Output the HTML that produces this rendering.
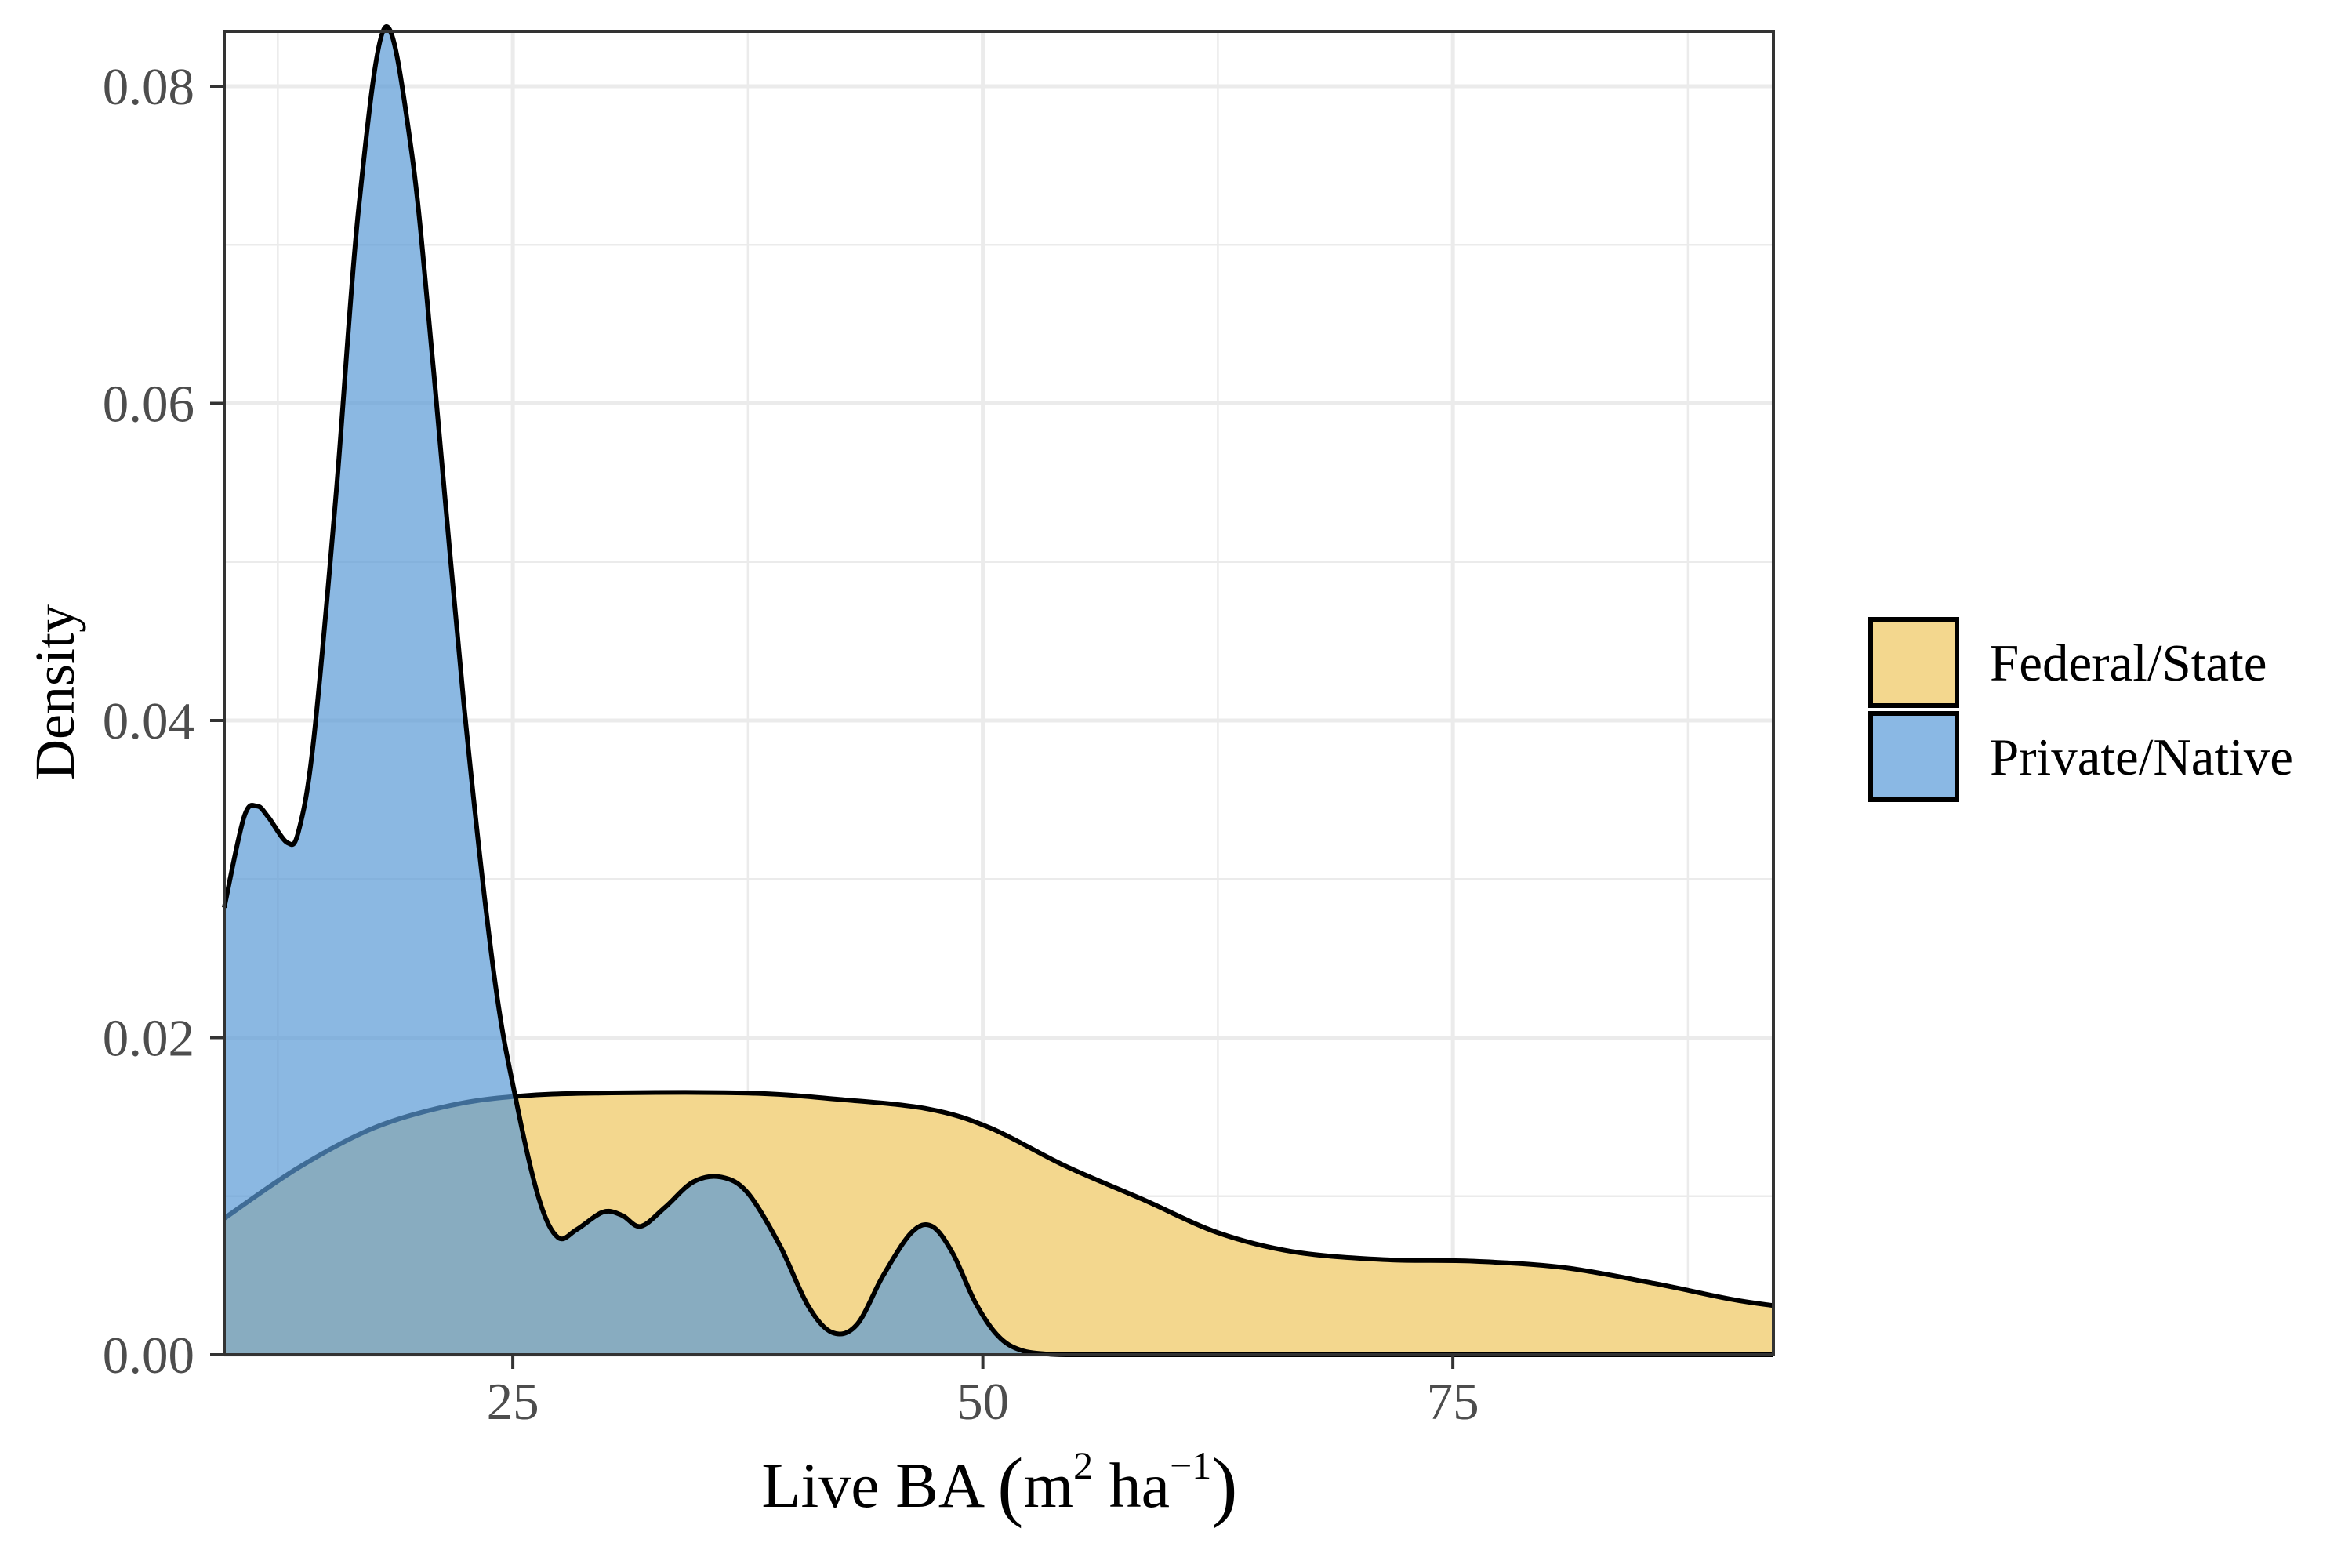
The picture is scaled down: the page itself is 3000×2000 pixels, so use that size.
<!DOCTYPE html>
<html><head><meta charset="utf-8"><style>
html,body{margin:0;padding:0;background:#fff;}
svg{display:block;font-family:"Liberation Serif",serif;}
</style></head><body>
<svg id="chart" width="3000" height="2000" viewBox="0 0 3000 2000" xmlns="http://www.w3.org/2000/svg">
<rect width="3000" height="2000" fill="#fff"/>
<g id="grid"></g>
<g id="areas"></g>
<g id="axes"></g>
<text x="94" y="883" font-size="72" fill="#000" text-anchor="middle" transform="rotate(-90 94 883)">Density</text>
<text x="1275" y="1922" font-size="82" fill="#000" text-anchor="middle">Live BA <tspan font-size="100" dy="6">(</tspan><tspan dy="-6">m</tspan><tspan font-size="50" dy="-36">2</tspan><tspan dy="36"> ha</tspan><tspan font-size="50" dy="-36">−1</tspan><tspan font-size="100" dy="42">)</tspan></text>
<g>
<rect x="2386" y="790" width="110" height="110" fill="#f3d78e" stroke="#000" stroke-width="6"/>
<rect x="2386" y="910" width="110" height="110" fill="#8ab8e4" stroke="#000" stroke-width="6"/>
<text x="2538" y="868" font-size="67" fill="#000">Federal/State</text>
<text x="2538" y="988" font-size="67" fill="#000">Private/Native</text>
</g>
</svg>
<script>
const xTicks = [25, 50, 75];
const xMinor = [12.5, 37.5, 62.5, 87.5];
const yTicks = [0, 0.02, 0.04, 0.06, 0.08];
const yTickLabels = ["0.00", "0.02", "0.04", "0.06", "0.08"];
const yMinor = [0.01, 0.03, 0.05, 0.07];
const fedX = [9.65,13.6,17.6,21.6,25.2,29.6,37.5,42.4,47.1,50.4,54.4,58.5,62.5,66.5,71.3,76.1,80.9,85.7,89.8,92.05];
const fedY = [0.0086,0.0118,0.0143,0.0157,0.0163,0.0165,0.0165,0.0161,0.0155,0.0143,0.0119,0.0098,0.0077,0.0065,0.006,0.0059,0.0055,0.0045,0.0035,0.0031];
const privX = [9.65,10.7,11.4,12.0,13.0,13.6,14.4,15.6,16.8,18.2,19.6,20.8,22.4,24.0,25.2,26.4,27.4,28.4,29.8,30.8,31.8,33.1,34.6,36.1,37.5,39.2,40.7,42.0,43.3,44.7,46.2,47.3,48.4,49.6,50.8,52.0,53.6,55.5];
const privY = [0.0282,0.0339,0.0346,0.0339,0.0323,0.033,0.0387,0.0543,0.0723,0.0837,0.076,0.0619,0.041,0.024,0.0159,0.0098,0.0074,0.0079,0.009,0.0088,0.0081,0.0093,0.0109,0.0112,0.0102,0.0069,0.0031,0.0014,0.0019,0.005,0.0077,0.0081,0.0064,0.0033,0.0012,0.0003,0.00003,0];

const L=286, R=2262, T=40, B=1728;
const xMin=9.65, xMax=92.05;
function sx(v){return L+(v-xMin)/(xMax-xMin)*(R-L);}
function sy(v){return B-v/0.02*404.5;}
const NS="http://www.w3.org/2000/svg";
function mk(tag,attrs,parent){const e=document.createElementNS(NS,tag);for(const k in attrs)e.setAttribute(k,attrs[k]);parent.appendChild(e);return e;}
const grid=document.getElementById('grid'), areas=document.getElementById('areas'), axes=document.getElementById('axes');
xMinor.forEach(v=>{const e=mk('line',{x1:sx(v),x2:sx(v),y1:T,y2:B,stroke:'#ebebeb','stroke-width':2.5},grid);

});
yMinor.forEach(v=>{const e=mk('line',{x1:L,x2:R,y1:sy(v),y2:sy(v),stroke:'#ebebeb','stroke-width':2.5},grid);

});
xTicks.forEach(v=>{const e=mk('line',{x1:sx(v),x2:sx(v),y1:T,y2:B,stroke:'#ebebeb','stroke-width':5},grid);

});
yTicks.forEach(v=>{const e=mk('line',{x1:L,x2:R,y1:sy(v),y2:sy(v),stroke:'#ebebeb','stroke-width':5},grid);

});

function smoothPath(xs,ys){
  const p=xs.map((x,i)=>[sx(x),sy(ys[i])]);
  let d='M'+p[0][0]+','+p[0][1];
  for(let i=0;i<p.length-1;i++){
    const p0=p[i-1]||p[i],p1=p[i],p2=p[i+1],p3=p[i+2]||p2;
    const c1=[p1[0]+(p2[0]-p0[0])/6,p1[1]+(p2[1]-p0[1])/6];
    const c2=[p2[0]-(p3[0]-p1[0])/6,p2[1]-(p3[1]-p1[1])/6];
    d+=' C'+c1[0]+','+c1[1]+' '+c2[0]+','+c2[1]+' '+p2[0]+','+p2[1];
  }
  return d;
}
function drawArea(xs,ys,fill,op,name){
  let line=smoothPath(xs,ys);
  const lastX=xs[xs.length-1];
  if(lastX<xMax) line+=' L'+sx(xMax)+','+sy(0);
  const a=mk('path',{d:line+' L'+sx(xMax)+','+B+' L'+sx(xs[0])+','+B+' Z',fill:fill,'fill-opacity':op,stroke:'none'},areas);
  
  
  const l=mk('path',{d:line,fill:'none',stroke:'#000','stroke-width':6,'stroke-linejoin':'round'},areas);
  
  
}
drawArea(fedX,fedY,'#f3d78e',1,'federal-state');
drawArea(privX,privY,'#5a9ad6',0.7,'private-native');

const frame=mk('rect',{x:L,y:T,width:R-L,height:B-T,fill:'none',stroke:'#333','stroke-width':4},axes);


xTicks.forEach(v=>{
  const t=mk('line',{x1:sx(v),x2:sx(v),y1:B,y2:B+18,stroke:'#333','stroke-width':4},axes);
  
  
  const tx=mk('text',{x:sx(v),y:1810,'font-size':67,fill:'#4d4d4d','text-anchor':'middle'},axes);
  tx.textContent=String(v);
  
  
});
yTicks.forEach((v,i)=>{
  const t=mk('line',{x1:L-18,x2:L,y1:sy(v),y2:sy(v),stroke:'#333','stroke-width':4},axes);
  
  
  const tx=mk('text',{x:248,y:sy(v)+23,'font-size':67,fill:'#4d4d4d','text-anchor':'end'},axes);
  tx.textContent=yTickLabels[i];
  
  
});
</script>
</body></html>
